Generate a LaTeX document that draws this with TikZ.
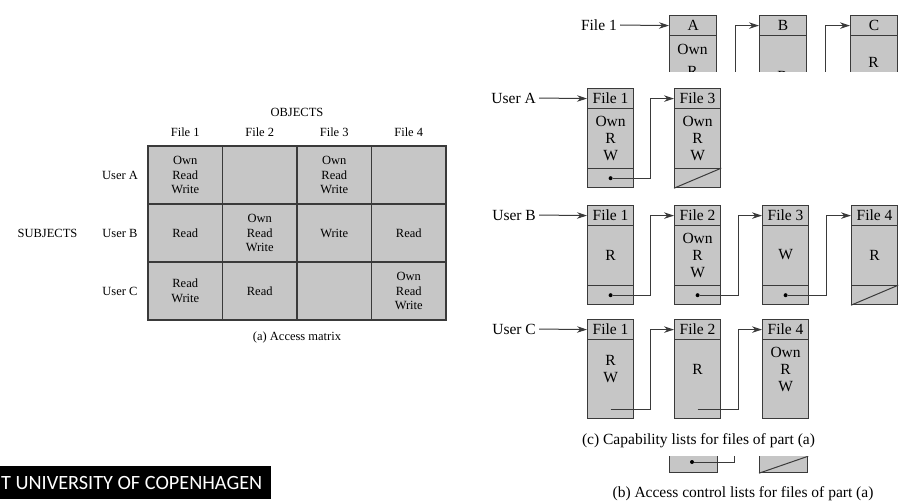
\documentclass[tikz,border=0pt]{standalone}
\usepackage{fontspec}
\setmainfont{Liberation Serif}
\newfontfamily\logofont{Carlito}
\usetikzlibrary{arrows.meta,calc}
\definecolor{cellgray}{HTML}{C6C6C6}
\definecolor{linegray}{HTML}{3A3A3A}
\tikzset{
  mtext/.style={align=center,inner sep=0pt,font=\fontsize{12.5}{14.5}\selectfont},
  rtext/.style={align=center,inner sep=0pt,font=\fontsize{15.5}{17}\selectfont},
  capbox/.style={draw=linegray,fill=cellgray,line width=1.2pt,anchor=north west,
    minimum width=46pt,minimum height=99pt,inner sep=0pt},
  hdr/.style={draw=linegray,line width=1.2pt,anchor=north,minimum width=46pt,
    minimum height=20pt,inner sep=0pt,font=\fontsize{15.5}{17}\selectfont},
  conn/.style={draw=linegray,line width=1pt},
  arr/.style={conn,-{Stealth[length=10pt,width=6.5pt]}},
  dotn/.style={circle,fill=black,inner sep=0pt,minimum size=4pt},
  lbl/.style={anchor=east,inner sep=3pt,font=\fontsize{15.5}{17}\selectfont},
}
\newcommand\mycap[5]{% name, x, top, header, content
  \node[capbox] (#1) at (#2,#3) {};
  \node[hdr] (#1h) at (#1.north) {#4};
  \node[rtext] (#1c) at ($(#1.north)+(0,50)$) {#5};
}
\begin{document}
\begin{tikzpicture}[x=1pt,y=-1pt]
\useasboundingbox (0,0) rectangle (910,503);

% ---------------- (a) access matrix
\fill[cellgray] (148,146) rectangle (446,320);
\draw[linegray,line width=1.8pt] (148,146) rectangle (446,320)
  (222.5,146) -- (222.5,320) (297,146) -- (297,320) (371.5,146) -- (371.5,320)
  (148,204) -- (446,204) (148,262) -- (446,262);
\node[mtext] (objects) at (297,112) {OBJECTS};
\node[mtext] (f1) at (185.25,132) {File 1};
\node[mtext] (f2) at (259.75,132) {File 2};
\node[mtext] (f3) at (334.25,132) {File 3};
\node[mtext] (f4) at (408.75,132) {File 4};
\node[mtext] (subjects) at (47.5,233) {SUBJECTS};
\node[mtext] (ua) at (120,175) {User A};
\node[mtext] (ub) at (120,233) {User B};
\node[mtext] (uc) at (120,291) {User C};
\node[mtext] (m11) at (185.25,175) {Own\\Read\\Write};
\node[mtext] (m13) at (334.25,175) {Own\\Read\\Write};
\node[mtext] (m21) at (185.25,233) {Read};
\node[mtext] (m22) at (259.75,233) {Own\\Read\\Write};
\node[mtext] (m23) at (334.25,233) {Write};
\node[mtext] (m24) at (408.75,233) {Read};
\node[mtext] (m31) at (185.25,291) {Read\\Write};
\node[mtext] (m32) at (259.75,291) {Read};
\node[mtext] (m34) at (408.75,291) {Own\\Read\\Write};
\node[mtext] (capa) at (297,337) {(a) Access matrix};

% ---------------- (b) top fragment
\begin{scope}
\clip (540,0) rectangle (910,72);
\node[capbox,minimum width=47pt] (ba) at (669,15) {};
\node[hdr,minimum width=47pt] (bah) at (ba.north) {A};
\node[rtext] (bac1) at (692.5,49) {Own};
\node[rtext] (bac2) at (692.5,71) {R};
\node[capbox,minimum width=47pt] (bb) at (759,15) {};
\node[hdr,minimum width=47pt] (bbh) at (bb.north) {B};
\node[rtext] (bbc) at (782.5,76) {R};
\node[capbox,minimum width=47pt] (bc) at (850,15) {};
\node[hdr,minimum width=47pt] (bch) at (bc.north) {C};
\node[rtext] (bcc1) at (873.5,62) {R};
\node[rtext] (bcc2) at (873.5,84) {W};
\coordinate (bfa) at (735,90);
\coordinate (bfb) at (825,90);
\draw[arr] (bfa) |- (bbh.west);
\draw[arr] (bfb) |- (bch.west);
\end{scope}
\node[lbl] (file1) at (620,25) {File 1};
\draw[arr] (file1.east) -- (bah.west);

% ---------------- (b) bottom fragment
\begin{scope}
\clip (540,456) rectangle (910,473.5);
\node[capbox,minimum width=48pt,minimum height=42pt] (bx1) at (669,430) {};
\node[dotn] (bx1d) at (692,462) {};
\coordinate (bx1e) at (734,440);
\draw[conn] (bx1d) -| (bx1e);
\node[capbox,minimum width=48pt,minimum height=42pt] (bx2) at (759,430) {};
\draw[conn] (bx2.south west) -- ($(bx2.south east)+(0,-17)$);
\end{scope}
\node[rtext] (capb) at (743,494) {(b) Access control lists for files of part (a)};

% ---------------- (c) capability lists
% User A
\mycap{a1}{587}{88}{File 1}{Own\\R\\W}
\mycap{a3}{674}{88}{File 3}{Own\\R\\W}
\draw[linegray,line width=1.2pt] ($(a1.south west)+(0,-20)$) -- ($(a1.south east)+(0,-20)$);
\draw[linegray,line width=1.2pt] ($(a3.south west)+(0,-20)$) -- ($(a3.south east)+(0,-20)$);
\draw[conn] (a3.south west) -- ($(a3.south east)+(0,-20)$);
\node[dotn] (a1d) at ($(a1.south)+(0,-10)$) {};
\draw[arr] (a1d) -| ([xshift=-24pt]a3h.west) -- (a3h.west);
\node[lbl] (la) at (539,98) {User A};
\draw[arr] (la.east) -- (a1h.west);

% User B
\mycap{b1}{587}{205}{File 1}{R}
\mycap{b2}{674}{205}{File 2}{Own\\R\\W}
\mycap{b3}{762}{205}{File 3}{W}
\mycap{b4}{851}{205}{File 4}{R}
\foreach \n in {b1,b2,b3,b4}
  \draw[linegray,line width=1.2pt] ($(\n.south west)+(0,-20)$) -- ($(\n.south east)+(0,-20)$);
\draw[conn] (b4.south west) -- ($(b4.south east)+(0,-20)$);
\node[dotn] (b1d) at ($(b1.south)+(0,-10)$) {};
\node[dotn] (b2d) at ($(b2.south)+(0,-10)$) {};
\node[dotn] (b3d) at ($(b3.south)+(0,-10)$) {};
\draw[arr] (b1d) -| ([xshift=-24pt]b2h.west) -- (b2h.west);
\draw[arr] (b2d) -| ([xshift=-24pt]b3h.west) -- (b3h.west);
\draw[arr] (b3d) -| ([xshift=-25pt]b4h.west) -- (b4h.west);
\node[lbl] (lb) at (539,215) {User B};
\draw[arr] (lb.east) -- (b1h.west);

% User C
\mycap{c1}{587}{319}{File 1}{R\\W}
\mycap{c2}{674}{319}{File 2}{R}
\mycap{c4}{762}{319}{File 4}{Own\\R\\W}
\coordinate (c1d) at ($(c1.south)+(0,-10)$);
\coordinate (c2d) at ($(c2.south)+(0,-10)$);
\draw[arr] (c1d) -| ([xshift=-24pt]c2h.west) -- (c2h.west);
\draw[arr] (c2d) -| ([xshift=-24pt]c4h.west) -- (c4h.west);
\node[lbl] (lc) at (539,329) {User C};
\draw[arr] (lc.east) -- (c1h.west);

\node[rtext] (capc) at (698.5,441) {(c) Capability lists for files of part (a)};

% ---------------- logo bar
\fill[black] (0,466) rectangle (271,499);
\node[anchor=west,inner sep=0pt,text=white] (logo) at (1,483)
  {\resizebox{261pt}{!}{\logofont T UNIVERSITY OF COPENHAGEN}};
\end{tikzpicture}
\end{document}
